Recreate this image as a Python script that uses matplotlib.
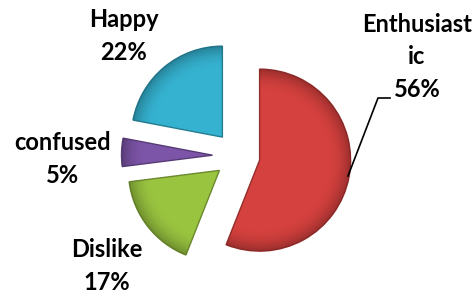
import numpy as np
import matplotlib
matplotlib.use('Agg')
from matplotlib import pyplot as plt

# data (clockwise from 12 o'clock)
labels = ['Enthusiastic', 'Dislike', 'confused', 'Happy']
label_text = ['Enthusiast\nic\n56%', 'Dislike\n17%', 'confused\n5%', 'Happy\n22%']
values = [56, 17, 5, 22]
colors = ['#D5413E', '#99C440', '#7D55A8', '#35B2D0']
explode = [22, 23.5, 25.5, 24.5]  # pie offsets are in data units (pixels here)

plt.rcParams['font.family'] = ['Lato', 'DejaVu Sans']

fig = plt.figure(figsize=(4.77, 2.99), dpi=100)
ax = fig.add_axes([0, 0, 1, 1])

wedges, _ = ax.pie(values, explode=explode, colors=colors, startangle=90,
                   counterclock=False, center=(238, 143), radius=91,
                   frame=True, wedgeprops=dict(linewidth=1.0))

# darker rim + soft radial shading to mimic the bevel look
for w, c in zip(wedges, colors):
    rgb = np.array(matplotlib.colors.to_rgb(c))
    w.set_edgecolor(tuple(rgb * 0.7))
    cx, cy = w.center
    r = w.r
    yy, xx = np.mgrid[cy - r:cy + r:200j, cx - r:cx + r:200j]
    d = np.hypot(xx - cx, yy - cy) / r
    shade = np.clip((d - 0.75) / 0.25, 0, 1) ** 2
    img = np.zeros((200, 200, 4))
    img[..., :3] = rgb * 0.55
    img[..., 3] = shade * 0.6
    im = ax.imshow(img, extent=(cx - r, cx + r, cy - r, cy + r),
                   origin='lower', zorder=w.get_zorder() + 0.1, interpolation='bilinear')
    im.set_clip_path(w)

ax.set_xlim(0, 477)
ax.set_ylim(0, 299)
ax.set_aspect('equal')
ax.axis('off')

# labels (positions in pixel space, y measured from bottom)
txt = dict(fontsize=17, fontweight='bold', ha='center', va='center',
           color='#000000', linespacing=1.5)
ax.text(417, 299 - 57, label_text[0], **txt)
ax.text(107, 299 - 266, label_text[1], **txt)
ax.text(63, 299 - 159, label_text[2], **txt)
ax.text(124, 299 - 36, label_text[3], **txt)

# leader line for Enthusiastic
ax.plot([348, 378, 390], [299 - 176, 299 - 98, 299 - 98], color='black', lw=1.2)

plt.savefig('out.png', dpi=100)
plt.close()
